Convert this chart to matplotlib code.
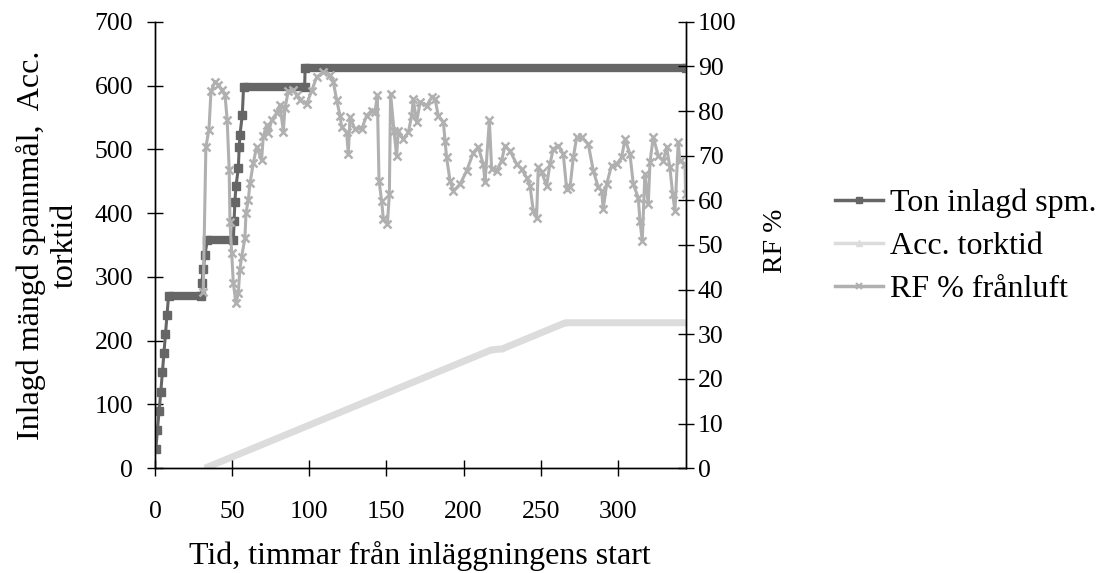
import numpy as np
import matplotlib
matplotlib.use('Agg')
from matplotlib import pyplot as plt
from matplotlib.lines import Line2D

plt.rcParams['font.family'] = ['Liberation Serif', 'DejaVu Serif']

# Ton inlagd spm. (vänster axel)
ton_h = [0.6, 1.6, 2.7, 3.8, 4.8, 5.8, 6.8, 7.8, 8.8, 30.0, 30.4, 31.3, 32.4, 34.0,
         50.8, 51.3, 51.8, 52.5, 54.0, 54.6, 55.1, 56.6, 57.4, 97.0, 97.3, 344]
ton_v = [30, 60, 90, 120, 150, 180, 210, 240, 270, 270, 290, 312, 335, 358,
         358, 388, 418, 442, 470, 503, 523, 554, 597, 597, 627, 627]

# Acc. torktid (vänster axel)
acc_h = [32.5, 218, 225, 266, 344]
acc_v = [0, 185.5, 187, 228, 228]

# RF % frånluft (höger axel)
rf_h = [31.3, 33.0, 35.0, 36.3, 38.9, 41.0, 43.2, 45.4, 46.8, 48.1, 48.6, 49.7, 50.8,
        52.5, 54.0, 55.0, 56.2, 58.3, 59.0, 60.5, 61.6, 63.7, 65.9, 69.1, 70.2, 72.4,
        73.5, 75.6, 78.8, 81.0, 83.2, 84.2, 86.4, 89.6, 91.8, 94.0, 98.3, 101.6, 104.8,
        109.1, 113.4, 115.6, 117.8, 119.9, 121.0, 124.2, 125.3, 126.4, 129.6, 134.0,
        137.2, 140.4, 142.6, 144.1, 145.2, 146.9, 148.0, 150.6, 151.9, 152.7, 154.9,
        156.6, 157.7, 161.0, 164.2, 166.4, 167.4, 169.6, 171.8, 176.1, 179.3, 181.5,
        183.6, 186.9, 188.0, 189.0, 191.2, 193.4, 197.7, 202.0, 206.3, 209.5, 212.8,
        213.9, 216.7, 218.2, 221.4, 224.7, 226.8, 230.1, 234.4, 237.6, 240.9, 243.0,
        245.2, 247.3, 248.4, 250.6, 253.8, 256.0, 258.1, 261.4, 264.6, 266.8, 269.0,
        271.1, 273.3, 276.5, 280.8, 284.1, 287.3, 289.5, 290.5, 292.7, 295.9, 299.2,
        302.4, 304.6, 307.8, 310.0, 313.2, 314.3, 315.8, 317.5, 319.7, 320.8, 322.9,
        326.2, 329.4, 331.6, 333.7, 335.5, 337.0, 339.1, 340.2, 343.5, 343.9]
rf_v = [39.5, 72.0, 75.8, 84.4, 86.6, 85.9, 84.8, 83.6, 78.0, 66.8, 55.2, 48.1, 41.4,
        36.9, 39.2, 44.4, 47.4, 51.5, 57.2, 60.1, 63.8, 68.3, 72.0, 69.0, 74.3, 76.9,
        75.0, 78.0, 79.5, 81.4, 75.4, 80.6, 84.4, 84.8, 83.6, 82.4, 81.6, 84.6, 87.6,
        88.7, 88.0, 86.5, 82.4, 79.0, 76.4, 75.2, 70.4, 78.6, 76.0, 76.0,
        79.0, 80.1, 79.7, 83.5, 64.4, 59.9, 55.8, 54.6, 61.4, 83.9, 75.6,
        70.0, 75.6, 73.7, 75.2, 79.0, 82.7, 77.5, 82.0, 81.2, 83.1, 82.7,
        79.0, 77.5, 73.4, 69.6, 64.4, 62.1, 63.6, 66.6, 70.7, 71.9, 68.1,
        64.0, 77.9, 67.0, 66.6, 68.9, 72.2, 71.1, 68.1, 67.0, 65.1, 63.3,
        57.6, 56.1, 67.4, 66.3, 63.3, 68.1, 71.5, 72.2, 70.4, 62.5, 62.9,
        69.6, 74.1, 74.1, 72.6, 66.6, 62.9, 62.1, 58.0, 63.6, 67.8, 68.1,
        69.6, 73.7, 70.4, 63.6, 60.6, 55.4, 50.9, 65.9, 59.1, 68.5, 74.1,
        70.0, 68.9, 71.9, 67.4, 61.4, 57.6, 73.0, 68.9, 68.1, 61.4]

c_ton = '#666666'
c_acc = '#dcdcdc'
c_rf = '#b0b0b0'

fig = plt.figure(figsize=(10.99, 5.73), dpi=100)
ax = fig.add_axes([0.141, 0.183, 0.624 - 0.141, 0.962 - 0.183])
ax2 = ax.twinx()

ax.plot(acc_h, acc_v, color=c_acc, lw=5, marker='^', ms=3,
        solid_capstyle='butt', zorder=1)
ax.plot(ton_h, ton_v, color=c_ton, lw=2.2, marker='s', ms=6, zorder=3)
# platta delar ser tjocka ut i originalet (många punkter på rad)
for i in range(len(ton_v) - 1):
    if ton_v[i] == ton_v[i + 1]:
        ax.plot(ton_h[i:i + 2], ton_v[i:i + 2], color=c_ton, lw=6,
                solid_capstyle='butt', zorder=3)
ax2.plot(rf_h, rf_v, color=c_rf, lw=2.2, marker='x', ms=5.5, mew=1.8, zorder=2)

ax.set_xlim(0, 344)
ax.set_ylim(0, 700)
ax2.set_ylim(0, 100)
ax.set_xticks(np.arange(0, 301, 50))
ax.set_yticks(np.arange(0, 701, 100))
ax2.set_yticks(np.arange(0, 101, 10))

for a in (ax, ax2):
    a.spines['top'].set_visible(False)
    for s in a.spines.values():
        s.set_linewidth(1.0)
ax.tick_params(axis='both', direction='inout', length=11.5, width=1, labelsize=18.5)
ax.tick_params(axis='y', pad=10)
ax.tick_params(axis='x', pad=18)
ax2.tick_params(axis='y', direction='inout', length=11.5, width=1, labelsize=18.5, pad=3)

ax.set_xlabel('Tid, timmar från inläggningens start', fontsize=23)
ax.xaxis.set_label_coords(0.5, -0.197)
ax.xaxis.label.set_va('center')
ax.set_ylabel('Inlagd mängd spannmål,  Acc.\ntorktid', fontsize=23)
ax.yaxis.set_label_coords(-0.202, 0.5)
ax.yaxis.label.set_va('center')
ax2.set_ylabel('RF %', fontsize=20)
ax2.yaxis.set_label_coords(1.169, 0.51)
ax2.yaxis.label.set_va('center')

# förklaringen: tunnare linjer och små markörer som i originalet
h_ton = Line2D([], [], color=c_ton, lw=2.5, marker='s', ms=4.5)
h_acc = Line2D([], [], color=c_acc, lw=2.5, marker='^', ms=4)
h_rf = Line2D([], [], color=c_rf, lw=2.5, marker='x', ms=4.5, mew=1.5)
fig.legend([h_ton, h_acc, h_rf], ['Ton inlagd spm.', 'Acc. torktid', 'RF % frånluft'],
           loc='center left', bbox_to_anchor=(0.76, 0.57), frameon=False,
           fontsize=23, handlelength=1.5, handletextpad=0.2, labelspacing=0.43,
           borderpad=0, borderaxespad=0)

fig.savefig('out.png', dpi=100)
